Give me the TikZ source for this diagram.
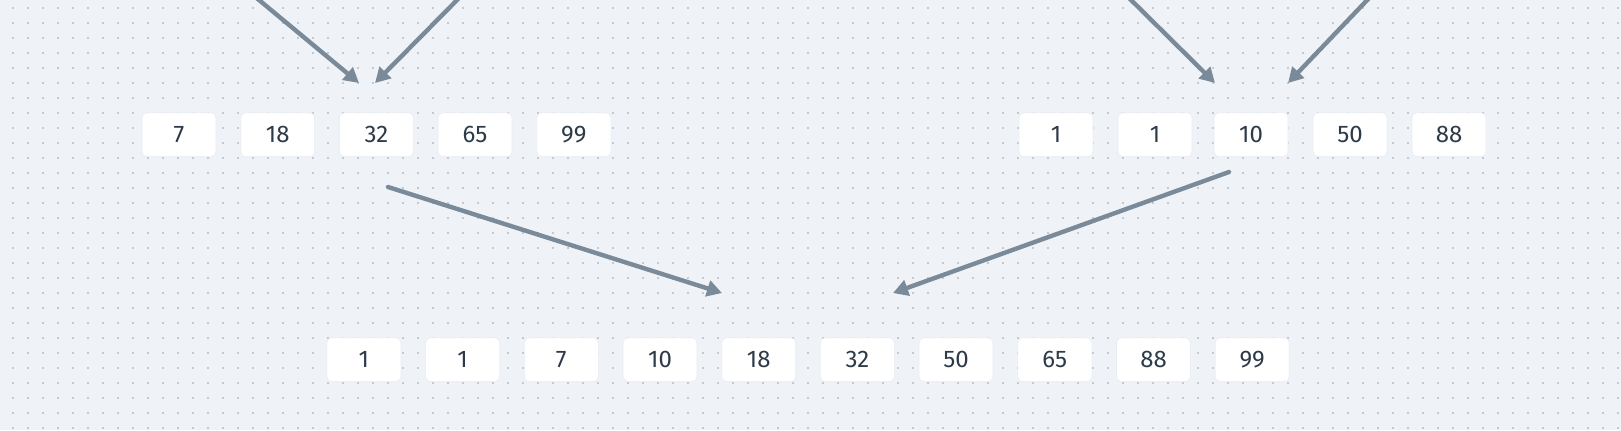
\documentclass[tikz,border=0pt]{standalone}
\usepackage{fontspec}
\setmainfont{Fira Sans}
\usetikzlibrary{arrows.meta}
\definecolor{bgcol}{HTML}{EFF3F7}
\definecolor{dotcol}{HTML}{C0CAD6}
\definecolor{arrcol}{HTML}{7A8A99}
\definecolor{txtcol}{HTML}{2D3A48}
\definecolor{edgecol}{HTML}{E8EDF2}

\begin{document}
\begin{tikzpicture}[x=0.5pt, y=-0.5pt,
    cell/.style={draw=edgecol, line width=0.3pt, fill=white, rounded corners=2.5pt,
        minimum width=37pt, minimum height=22pt, inner sep=0pt,
        text=txtcol, font=\fontsize{12}{14}\selectfont},
    flow/.style={draw=arrcol, line width=2.2pt, line cap=round,
        -{Triangle[length=7.5pt, width=8pt]}}]
            \useasboundingbox[fill=bgcol] (0, 0) rectangle (1621, 430);
            \foreach \i in {0,...,107} {
                \foreach \j in {0,...,28} {
                    \fill[dotcol] (12.5+15*\i-1, 7.5+15*\j-1) rectangle +(2, 2);
                }
            }

            % left half
            \node[cell] (l1) at (179, 134.7) {7};
            \node[cell] (l2) at (277.7, 134.7) {18};
            \node[cell] (l3) at (376.4, 134.7) {32};
            \node[cell] (l4) at (475, 134.7) {65};
            \node[cell] (l5) at (573.8, 134.7) {99};

            % right half
            \node[cell] (r1) at (1056, 134.7) {1};
            \node[cell] (r2) at (1155, 134.7) {1};
            \node[cell] (r3) at (1251, 134.7) {10};
            \node[cell] (r4) at (1350, 134.7) {50};
            \node[cell] (r5) at (1449, 134.7) {88};

            % merged
            \node[cell] (m1) at (363.9, 359.7) {1};
            \node[cell] (m2) at (462.6, 359.7) {1};
            \node[cell] (m3) at (561.3, 359.7) {7};
            \node[cell] (m4) at (660, 359.7) {10};
            \node[cell] (m5) at (758.7, 359.7) {18};
            \node[cell] (m6) at (857.4, 359.7) {32};
            \node[cell] (m7) at (956, 359.7) {50};
            \node[cell] (m8) at (1054.8, 359.7) {65};
            \node[cell] (m9) at (1153.5, 359.7) {88};
            \node[cell] (m10) at (1252.2, 359.7) {99};

            \coordinate (la) at (253, -5);
            \coordinate (lb) at (462, -5);
            \coordinate (lat) at (359, 83);
            \coordinate (lbt) at (375, 83);
            \draw[flow] (la) -- (lat);
            \draw[flow] (lb) -- (lbt);

            \coordinate (ra) at (1126, -5);
            \coordinate (rb) at (1372, -5);
            \coordinate (rat) at (1215, 83);
            \coordinate (rbt) at (1288, 83);
            \draw[flow] (ra) -- (rat);
            \draw[flow] (rb) -- (rbt);

            \coordinate (ls) at (388, 187);
            \coordinate (lt) at (722, 293);
            \draw[flow] (ls) -- (lt);
            \coordinate (rs) at (1229, 172);
            \coordinate (rt) at (893, 293);
            \draw[flow] (rs) -- (rt);
        \end{tikzpicture}
\end{document}
